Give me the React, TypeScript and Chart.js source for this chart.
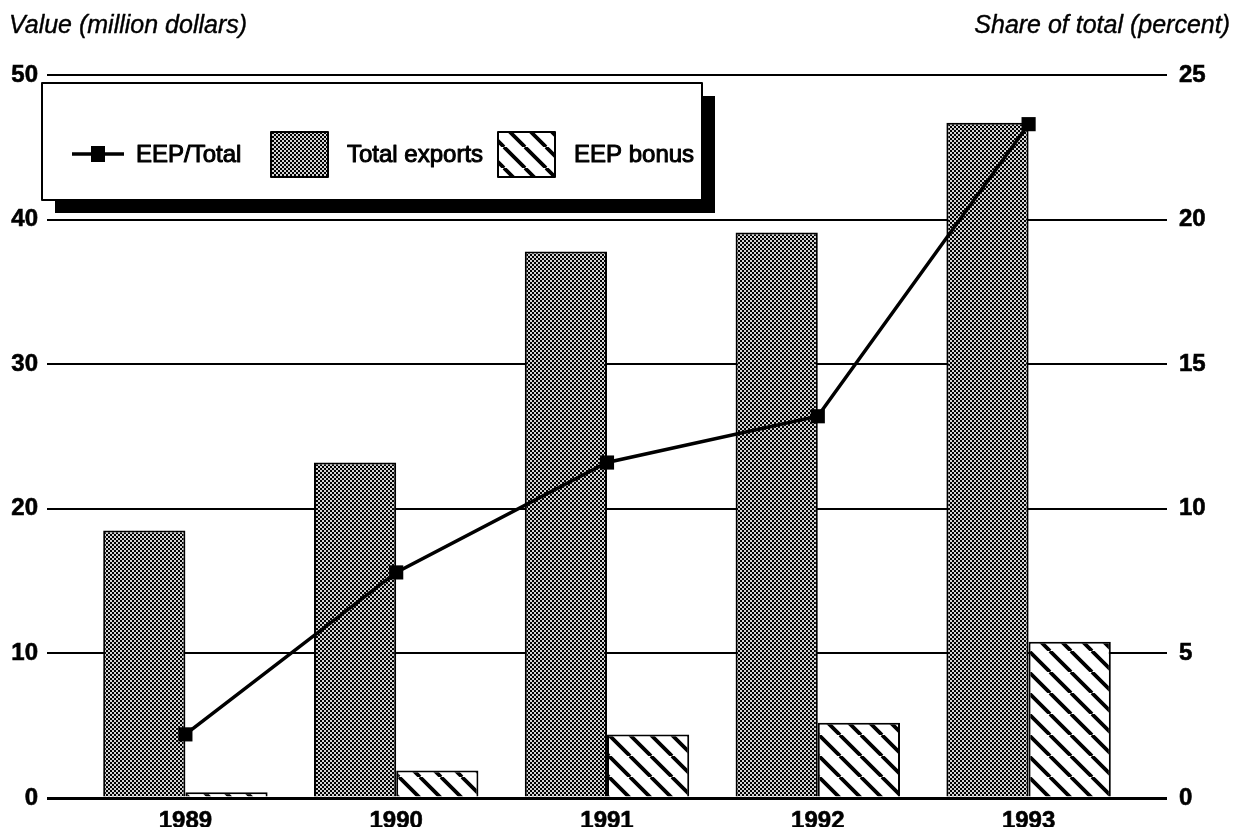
import React, { useEffect, useRef } from "react";
import { Chart, registerables } from "chart.js";

Chart.register(...registerables);

// Years on the category axis
const categories = ["1989", "1990", "1991", "1992", "1993"];
// Total exports, million dollars (left axis)
const totalExports = [18.5, 23.2, 37.8, 39.1, 46.7];
// EEP bonus, million dollars (left axis)
const eepBonus = [0.4, 1.9, 4.4, 5.2, 10.8];
// EEP bonus as a share of total exports, percent (right axis)
const eepShare = [2.2, 7.8, 11.6, 13.2, 23.3];

const leftTicks = [0, 10, 20, 30, 40, 50];
const rightTicks = [0, 5, 10, 15, 20, 25];

const leftTitle = "Value (million dollars)";
const rightTitle = "Share of total (percent)";

const FONT = '"Liberation Sans", Arial, Helvetica, sans-serif';

function makeStipple(): CanvasPattern | string {
  const c = document.createElement("canvas");
  c.width = 4;
  c.height = 4;
  const g = c.getContext("2d");
  if (!g) return "#888";
  g.fillStyle = "#d4d4d4";
  g.fillRect(0, 0, 4, 4);
  g.fillStyle = "#000";
  g.fillRect(0, 0, 2, 2);
  g.fillRect(2, 2, 2, 2);
  return g.createPattern(c, "repeat") || "#888";
}

function makeHatch(): CanvasPattern | string {
  const s = 21;
  const c = document.createElement("canvas");
  c.width = s;
  c.height = s;
  const g = c.getContext("2d");
  if (!g) return "#fff";
  g.fillStyle = "#fff";
  g.fillRect(0, 0, s, s);
  g.strokeStyle = "#000";
  g.lineWidth = 3.8;
  g.beginPath();
  for (const o of [-s, 0, s]) {
    g.moveTo(o, 0);
    g.lineTo(o + s, s);
  }
  g.stroke();
  return g.createPattern(c, "repeat") || "#fff";
}

function heavyText(ctx: CanvasRenderingContext2D, text: string, x: number, y: number, w: number) {
  ctx.fillText(text, x, y);
  ctx.lineWidth = w;
  ctx.strokeText(text, x, y);
}

// Boxed legend with a drop shadow, plus the two axis titles
const overlayPlugin = {
  id: "overlay",
  afterDraw(chart: any) {
    const ctx: CanvasRenderingContext2D = chart.ctx;
    const ds = chart.data.datasets;
    ctx.save();

    ctx.fillStyle = "#000";
    ctx.strokeStyle = "#000";
    ctx.lineJoin = "round";
    ctx.font = `italic 25px ${FONT}`;
    ctx.textBaseline = "middle";
    ctx.textAlign = "left";
    heavyText(ctx, leftTitle, 9, 26, 0.4);
    ctx.textAlign = "right";
    heavyText(ctx, rightTitle, 1230, 26, 0.4);

    // legend frame
    const bx = 42, by = 83, bw = 660, bh = 117, sh = 13;
    ctx.fillStyle = "#000";
    ctx.fillRect(bx + sh, by + sh, bw, bh);
    ctx.fillStyle = "#fff";
    ctx.fillRect(bx, by, bw, bh);
    ctx.lineWidth = 2;
    ctx.strokeRect(bx, by, bw, bh);

    const cy = 154;
    ctx.font = `24px ${FONT}`;
    ctx.textAlign = "left";
    ctx.textBaseline = "middle";

    // line + marker sample
    ctx.lineWidth = 3.5;
    ctx.beginPath();
    ctx.moveTo(72, cy);
    ctx.lineTo(124, cy);
    ctx.stroke();
    ctx.fillStyle = "#000";
    ctx.fillRect(98 - 7, cy - 8, 14, 16);
    heavyText(ctx, ds[0].label, 136, cy + 1, 1);

    // stipple swatch
    ctx.fillStyle = ds[1].backgroundColor;
    ctx.fillRect(271, cy - 22, 57, 45);
    ctx.lineWidth = 2;
    ctx.strokeRect(271, cy - 22, 57, 45);
    ctx.fillStyle = "#000";
    heavyText(ctx, ds[1].label, 347, cy + 1, 1);

    // hatch swatch
    ctx.fillStyle = ds[2].backgroundColor;
    ctx.fillRect(498, cy - 22, 57, 45);
    ctx.lineWidth = 2;
    ctx.strokeRect(498, cy - 22, 57, 45);
    ctx.fillStyle = "#000";
    heavyText(ctx, ds[2].label, 574, cy + 1, 1);

    ctx.restore();
  },
};

export default function App() {
  const ref = useRef<HTMLCanvasElement | null>(null);

  useEffect(() => {
    const canvas = ref.current;
    if (!canvas) return;
    const stipple = makeStipple();
    const hatch = makeHatch();
    const gridWidth = (c: any) => (c.tick && c.tick.value === 0 ? 3 : 2);
    const tickFont = { family: FONT, size: 24, weight: "bold" as const };

    const chart = new Chart(canvas, {
      type: "bar",
      data: {
        labels: categories,
        datasets: [
          {
            type: "line",
            label: "EEP/Total",
            data: eepShare,
            yAxisID: "y1",
            borderColor: "#000",
            backgroundColor: "#000",
            borderWidth: 3.5,
            pointStyle: "rect",
            pointRadius: 10,
            pointBackgroundColor: "#000",
            pointBorderWidth: 0,
            tension: 0,
            order: 0,
          } as any,
          {
            type: "bar",
            label: "Total exports",
            data: totalExports,
            yAxisID: "y",
            backgroundColor: stipple as any,
            borderColor: "#000",
            borderWidth: 2,
            categoryPercentage: 0.78,
            barPercentage: 1,
            order: 1,
          },
          {
            type: "bar",
            label: "EEP bonus",
            data: eepBonus,
            yAxisID: "y",
            backgroundColor: hatch as any,
            borderColor: "#000",
            borderWidth: 2,
            categoryPercentage: 0.78,
            barPercentage: 1,
            order: 2,
          },
        ],
      },
      options: {
        animation: false,
        responsive: false,
        events: [],
        layout: { padding: { top: 75, left: 0, right: 0, bottom: 0 } },
        plugins: {
          legend: { display: false },
          tooltip: { enabled: false },
          title: { display: false },
        },
        scales: {
          x: {
            type: "category",
            offset: true,
            grid: { display: false },
            border: { display: false },
            ticks: {
              color: "#000",
              font: tickFont,
              padding: 1,
              textStrokeColor: "#000",
              textStrokeWidth: 0.6,
            },
            afterFit: (s: any) => {
              s.height = 29;
            },
          },
          y: {
            position: "left",
            min: leftTicks[0],
            max: leftTicks[leftTicks.length - 1],
            afterBuildTicks: (s: any) => {
              s.ticks = leftTicks.map((v) => ({ value: v }));
            },
            grid: {
              color: "#000",
              lineWidth: gridWidth,
              tickLength: 33,
              tickColor: "#000",
              tickWidth: gridWidth,
            },
            border: { display: false },
            ticks: {
              color: "#000",
              font: tickFont,
              padding: 9,
              textStrokeColor: "#000",
              textStrokeWidth: 0.6,
            },
            afterFit: (s: any) => {
              s.width = 80;
            },
          },
          y1: {
            position: "right",
            min: rightTicks[0],
            max: rightTicks[rightTicks.length - 1],
            afterBuildTicks: (s: any) => {
              s.ticks = rightTicks.map((v) => ({ value: v }));
            },
            grid: {
              drawOnChartArea: false,
              color: "#000",
              tickLength: 33,
              tickColor: "#000",
              lineWidth: gridWidth,
              tickWidth: gridWidth,
            },
            border: { display: false },
            ticks: {
              color: "#000",
              font: tickFont,
              padding: 12,
              textStrokeColor: "#000",
              textStrokeWidth: 0.6,
            },
            afterFit: (s: any) => {
              s.width = 99;
            },
          },
        },
      },
      plugins: [overlayPlugin],
    });

    return () => chart.destroy();
  }, []);

  return (
    <div
      style={{
        position: "absolute",
        left: 0,
        top: 0,
        width: 1233,
        height: 827,
        background: "#fff",
      }}
    >
      <canvas ref={ref} width={1233} height={827} />
    </div>
  );
}
